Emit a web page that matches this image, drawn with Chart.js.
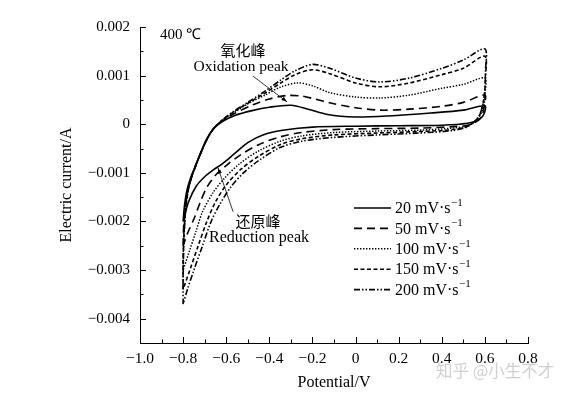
<!DOCTYPE html>
<html>
<head>
<meta charset="utf-8">
<script src="https://cdn.jsdelivr.net/npm/chart.js@4.4.1/dist/chart.umd.min.js"></script>
<style>
  html, body { margin: 0; padding: 0; background: #fff; }
</style>
</head>
<body>
<canvas id="cvChart" width="571" height="395"></canvas>
<script>
// --- DATA ---
const scanRates = ['20', '50', '100', '150', '200'];

const xTickValues = [-1.0, -0.8, -0.6, -0.4, -0.2, 0, 0.2, 0.4, 0.6, 0.8];
const xTickLabels = ['\u22121.0', '\u22120.8', '\u22120.6', '\u22120.4', '\u22120.2', '0', '0.2', '0.4', '0.6', '0.8'];
const yTickValues = [0.002, 0.001, 0, -0.001, -0.002, -0.003, -0.004];
const yTickLabels = ['0.002', '0.001', '0', '\u22120.001', '\u22120.002', '\u22120.003', '\u22120.004'];

// each loop: anodic sweep -0.8 -> 0.6, then cathodic sweep back to -0.8
const potential20 = [-0.800, -0.793, -0.782, -0.765, -0.745, -0.720, -0.690, -0.660, -0.620, -0.560, -0.480, -0.400, -0.300, -0.220, -0.130, 0.000, 0.150, 0.350, 0.500, 0.600,
    0.597, 0.575, 0.520, 0.400, 0.200, 0.000, -0.200, -0.330, -0.430, -0.500, -0.560, -0.620, -0.660, -0.700, -0.740, -0.775, -0.800];
const current20 = [-0.00200, -0.00165, -0.00135, -0.00110, -0.00088, -0.00060, -0.00030, -0.00010, 0.00005, 0.00018, 0.00028, 0.00035, 0.00039, 0.00031, 0.00020, 0.00015, 0.00017, 0.00023, 0.00029, 0.00038,
    0.00022, 0.00010, 0.00002, -0.00002, -0.00003, -0.00004, -0.00006, -0.00012, -0.00022, -0.00038, -0.00060, -0.00082, -0.00094, -0.00108, -0.00128, -0.00160, -0.00200];

const potential50 = [-0.800, -0.797, -0.790, -0.780, -0.763, -0.745, -0.720, -0.690, -0.660, -0.620, -0.570, -0.476, -0.400, -0.320, -0.250, -0.190, -0.120, 0.000, 0.114, 0.250, 0.400, 0.500, 0.600,
    0.598, 0.590, 0.570, 0.520, 0.450, 0.300, 0.100, -0.100, -0.250, -0.350, -0.450, -0.540, -0.600, -0.650, -0.690, -0.720, -0.750, -0.780, -0.800];
const current50 = [-0.00250, -0.00205, -0.00170, -0.00140, -0.00112, -0.00089, -0.00061, -0.00031, -0.00010, 0.00006, 0.00020, 0.00040, 0.00052, 0.00059, 0.00058, 0.00052, 0.00044, 0.00034, 0.00029, 0.00031, 0.00037, 0.00045, 0.00060,
    0.00040, 0.00022, 0.00008, -0.00002, -0.00005, -0.00008, -0.00009, -0.00011, -0.00017, -0.00026, -0.00042, -0.00065, -0.00085, -0.00105, -0.00130, -0.00160, -0.00195, -0.00225, -0.00250];

const potential100 = [-0.800, -0.799, -0.795, -0.788, -0.778, -0.763, -0.745, -0.720, -0.690, -0.660, -0.620, -0.570, -0.500, -0.420, -0.350, -0.270, -0.200, -0.120, 0.000, 0.114, 0.250, 0.400, 0.500, 0.600,
    0.601, 0.596, 0.585, 0.565, 0.520, 0.450, 0.300, 0.100, -0.100, -0.250, -0.350, -0.450, -0.540, -0.610, -0.660, -0.710, -0.740, -0.770, -0.800];
const current100 = [-0.00300, -0.00255, -0.00210, -0.00170, -0.00140, -0.00112, -0.00089, -0.00061, -0.00031, -0.00010, 0.00007, 0.00022, 0.00042, 0.00060, 0.00076, 0.00085, 0.00079, 0.00065, 0.00056, 0.00054, 0.00060, 0.00074, 0.00082, 0.00095,
    0.00065, 0.00040, 0.00025, 0.00010, -0.00003, -0.00008, -0.00012, -0.00014, -0.00017, -0.00024, -0.00035, -0.00055, -0.00082, -0.00112, -0.00140, -0.00180, -0.00220, -0.00260, -0.00300];

const potential150 = [-0.800, -0.800, -0.797, -0.792, -0.782, -0.765, -0.745, -0.720, -0.690, -0.660, -0.620, -0.570, -0.500, -0.420, -0.350, -0.280, -0.200, -0.120, 0.000, 0.114, 0.250, 0.400, 0.500, 0.600,
    0.602, 0.598, 0.588, 0.568, 0.520, 0.450, 0.300, 0.100, -0.100, -0.250, -0.350, -0.450, -0.530, -0.600, -0.650, -0.690, -0.730, -0.765, -0.800];
const current150 = [-0.00340, -0.00290, -0.00240, -0.00195, -0.00148, -0.00114, -0.00089, -0.00061, -0.00031, -0.00010, 0.00008, 0.00024, 0.00043, 0.00064, 0.00084, 0.00102, 0.00112, 0.00104, 0.00085, 0.00077, 0.00085, 0.00102, 0.00115, 0.00140,
    0.00095, 0.00060, 0.00035, 0.00013, -0.00004, -0.00011, -0.00015, -0.00018, -0.00022, -0.00030, -0.00042, -0.00066, -0.00092, -0.00125, -0.00160, -0.00200, -0.00250, -0.00295, -0.00340];

const potential200 = [-0.800, -0.800, -0.797, -0.792, -0.782, -0.765, -0.745, -0.720, -0.690, -0.660, -0.620, -0.570, -0.500, -0.420, -0.350, -0.280, -0.200, -0.120, 0.000, 0.114, 0.250, 0.400, 0.500, 0.600,
    0.603, 0.600, 0.590, 0.570, 0.520, 0.450, 0.300, 0.100, -0.100, -0.250, -0.350, -0.450, -0.520, -0.580, -0.630, -0.670, -0.710, -0.750, -0.780, -0.800];
const current200 = [-0.00370, -0.00310, -0.00250, -0.00200, -0.00150, -0.00115, -0.00090, -0.00062, -0.00032, -0.00010, 0.00008, 0.00025, 0.00045, 0.00068, 0.00090, 0.00110, 0.00123, 0.00115, 0.00095, 0.00087, 0.00095, 0.00115, 0.00132, 0.00155,
    0.00110, 0.00070, 0.00040, 0.00015, -0.00005, -0.00013, -0.00018, -0.00022, -0.00027, -0.00035, -0.00048, -0.00075, -0.00100, -0.00130, -0.00165, -0.00200, -0.00250, -0.00300, -0.00340, -0.00370];

// --- STYLE ---
const SERIF = "'Liberation Serif', 'Times New Roman', serif";
const CJK = "'Noto Sans CJK SC', sans-serif";
const dashes = [[], [8, 5], [1.4, 1.6], [4, 2.5], [6, 2, 1.5, 2, 1.5, 2]];
const widths = [1.6, 1.6, 1.5, 1.6, 1.6];

const loops = [
    [potential20, current20],
    [potential50, current50],
    [potential100, current100],
    [potential150, current150],
    [potential200, current200]
];

const datasets = loops.map(([xs, ys], i) => ({
    label: scanRates[i] + ' mV\u00b7s',
    data: xs.map((x, k) => ({ x: x, y: ys[k] })),
    showLine: true,
    borderColor: '#000',
    borderWidth: widths[i],
    borderDash: dashes[i],
    pointRadius: 0,
    tension: 0.3,
    fill: false
}));

function arrow(ctx, x1, y1, x2, y2, head) {
    ctx.beginPath();
    ctx.moveTo(x1, y1);
    ctx.lineTo(x2, y2);
    ctx.stroke();
    if (!head) return;
    const a = Math.atan2(y2 - y1, x2 - x1);
    ctx.beginPath();
    ctx.moveTo(x2, y2);
    ctx.lineTo(x2 - 6 * Math.cos(a - 0.35), y2 - 6 * Math.sin(a - 0.35));
    ctx.lineTo(x2 - 6 * Math.cos(a + 0.35), y2 - 6 * Math.sin(a + 0.35));
    ctx.closePath();
    ctx.fill();
}

// inward tick marks, annotations, legend inside the plot
const decorPlugin = {
    id: 'decor',
    afterDraw(chart) {
        const ctx = chart.ctx;
        const xs = chart.scales.x, ys = chart.scales.y;
        const area = chart.chartArea;
        ctx.save();
        ctx.strokeStyle = '#000';
        ctx.fillStyle = '#000';
        ctx.lineWidth = 1;
        ctx.setLineDash([]);

        // y ticks (major 0.001, minor 0.0005)
        for (let k = -9; k <= 4; k++) {
            const py = Math.round(ys.getPixelForValue(k * 0.0005)) + 0.5;
            const len = k % 2 === 0 ? 6 : 3.5;
            ctx.beginPath();
            ctx.moveTo(area.left, py);
            ctx.lineTo(area.left + len, py);
            ctx.stroke();
        }
        // x ticks (major 0.2, minor 0.1)
        for (let k = -10; k <= 8; k++) {
            const px = Math.round(xs.getPixelForValue(k * 0.1)) + 0.5;
            const len = k % 2 === 0 ? 6 : 3.5;
            ctx.beginPath();
            ctx.moveTo(px, area.bottom);
            ctx.lineTo(px, area.bottom - len);
            ctx.stroke();
        }

        // annotations
        ctx.textBaseline = 'middle';
        ctx.textAlign = 'left';
        ctx.font = '15px ' + SERIF;
        ctx.fillText('400 \u2103', 160, 35);

        ctx.textAlign = 'center';
        ctx.font = '15px ' + CJK;
        ctx.fillText('\u6c27\u5316\u5cf0', 243, 50);
        ctx.font = '15.5px ' + SERIF;
        ctx.fillText('Oxidation peak', 241, 67);
        ctx.font = '15px ' + CJK;
        ctx.fillText('\u8fd8\u539f\u5cf0', 258, 221);
        ctx.font = '16px ' + SERIF;
        ctx.fillText('Reduction peak', 259, 238);

        ctx.lineWidth = 0.8;
        arrow(ctx, xs.getPixelForValue(-0.476), ys.getPixelForValue(0.00099),
            xs.getPixelForValue(-0.318), ys.getPixelForValue(0.00046), true);
        arrow(ctx, xs.getPixelForValue(-0.568), ys.getPixelForValue(-0.00180),
            xs.getPixelForValue(-0.638), ys.getPixelForValue(-0.00090), true);

        // legend
        chart.data.datasets.forEach((ds, i) => {
            const y = 208 + i * 20.4;
            ctx.lineWidth = ds.borderWidth;
            ctx.setLineDash(ds.borderDash);
            ctx.beginPath();
            ctx.moveTo(354, y);
            ctx.lineTo(391, y);
            ctx.stroke();
            ctx.setLineDash([]);
            ctx.textAlign = 'left';
            ctx.font = '16px ' + SERIF;
            ctx.fillText(ds.label, 395, y + 1);
            const w = ctx.measureText(ds.label).width;
            ctx.font = '11px ' + SERIF;
            ctx.fillText('\u22121', 395 + w + 0.5, y - 5);
        });

        // watermark
        ctx.fillStyle = 'rgba(170,170,170,0.55)';
        ctx.font = '16.5px ' + CJK;
        ctx.fillText('\u77e5\u4e4e @\u5c0f\u751f\u4e0d\u624d', 436, 371);
        ctx.restore();
    }
};

new Chart(document.getElementById('cvChart'), {
    type: 'scatter',
    data: { datasets: datasets },
    options: {
        responsive: false,
        animation: false,
        layout: { padding: { left: 0, right: 43, top: 27, bottom: 0 } },
        plugins: { legend: { display: false }, tooltip: { enabled: false } },
        scales: {
            x: {
                type: 'linear',
                min: -1.0,
                max: 0.8,
                afterBuildTicks: s => { s.ticks = xTickValues.map(v => ({ value: v })); },
                afterFit: s => { s.height = 52; },
                grid: { display: false, drawTicks: false },
                border: { display: true, color: '#000', width: 1 },
                ticks: {
                    autoSkip: false, maxRotation: 0, padding: 7, color: '#000',
                    font: { family: SERIF, size: 15.5 },
                    callback: (v, i) => xTickLabels[i]
                },
                title: {
                    display: true, text: 'Potential/V', color: '#000',
                    font: { family: SERIF, size: 16 }, padding: { top: 0, bottom: 3 }
                }
            },
            y: {
                type: 'linear',
                min: -0.0045,
                max: 0.002,
                afterBuildTicks: s => { s.ticks = yTickValues.map(v => ({ value: v })); },
                afterFit: s => { s.width = 140; },
                grid: { display: false, drawTicks: false },
                border: { display: true, color: '#000', width: 1 },
                ticks: {
                    autoSkip: false, padding: 10, color: '#000',
                    font: { family: SERIF, size: 15 },
                    callback: (v, i) => yTickLabels[i]
                },
                title: {
                    display: true, text: 'Electric current/A', color: '#000',
                    font: { family: SERIF, size: 16 }, padding: { top: 57, bottom: 0 }
                }
            }
        }
    },
    plugins: [decorPlugin]
});
</script>
</body>
</html>
